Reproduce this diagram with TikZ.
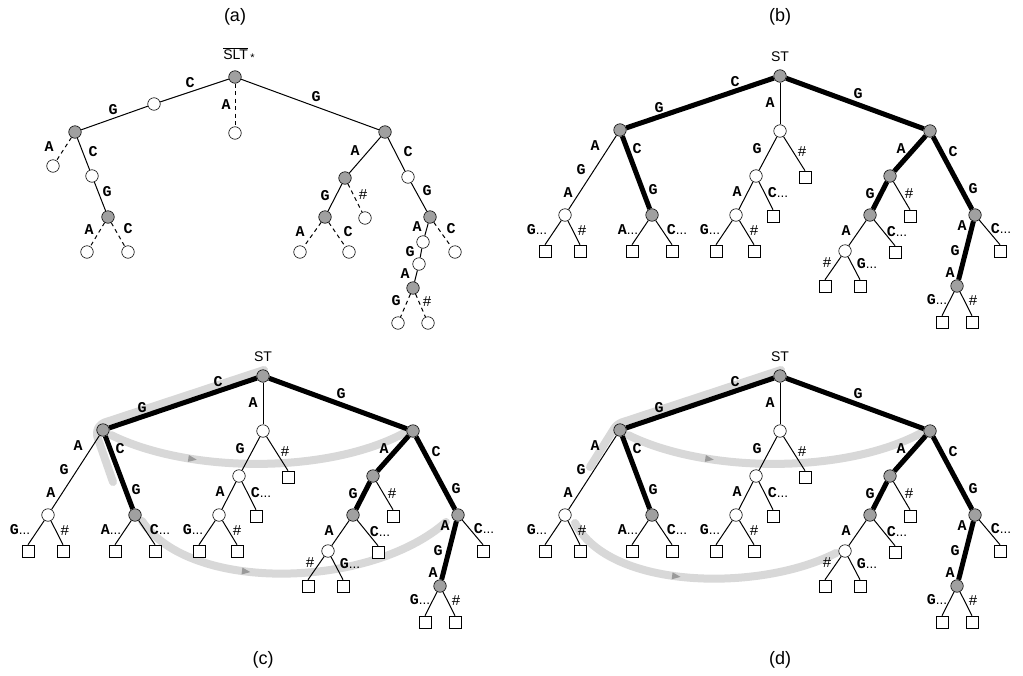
\documentclass[tikz,border=0pt]{standalone}
\usepackage{fontspec}
\setmainfont{Liberation Sans}
\newfontfamily\lmono{Liberation Mono}
\usetikzlibrary{calc,decorations.markings}
\definecolor{nodegray}{HTML}{A0A0A0}
\definecolor{bandgray}{HTML}{D8D8D8}
\definecolor{arrgray}{HTML}{9A9A9A}
\pgfdeclarelayer{back}
\pgfsetlayers{back,main}
\newcommand\mydots{{\normalfont\fontsize{13.5}{14}\selectfont...}}
\tikzset{
 gn/.style={circle,draw,fill=nodegray,minimum size=12.5pt,inner sep=0pt,line width=0.6pt},
 wn/.style={circle,draw,fill=white,minimum size=12.5pt,inner sep=0pt,line width=0.6pt},
 sqn/.style={rectangle,draw,fill=white,minimum size=12pt,inner sep=0pt,line width=0.6pt},
 thn/.style={line width=1pt},
 thk/.style={line width=5pt},
 dsh/.style={line width=1pt,dash pattern=on 4pt off 3.5pt},
 lb/.style={font=\fontsize{15}{16}\lmono\bfseries,inner sep=0pt},
 hs/.style={font=\fontsize{15}{16}\lmono,inner sep=0pt},
 ttl/.style={font=\fontsize{18}{19}\selectfont,inner sep=0pt},
 rt/.style={font=\fontsize{14}{15}\selectfont,inner sep=0pt},
 band/.style={line width=8pt,draw=bandgray,line cap=round,line join=round},
 arrmark/.style={postaction={decorate,decoration={markings,mark=at position #1 with {\fill[arrgray] (4.5pt,0pt) -- (-4pt,3.5pt) -- (-4pt,-3.5pt) -- cycle;}}}},
}
\newcommand\sttree[1]{%
 \node[rt] (#1t) at (780,57) {ST};
 \node[gn] (#1r) at (780,76) {};
 \node[gn] (#1l) at (620,130) {};
 \node[wn] (#1m) at (780,131) {};
 \node[gn] (#1q) at (930,131) {};
 \node[wn] (#1lw) at (565,215) {};
 \node[gn] (#1lg) at (652,215) {};
 \node[sqn] (#1s1) at (545,251) {};
 \node[sqn] (#1s2) at (580,251) {};
 \node[sqn] (#1s3) at (632,251) {};
 \node[sqn] (#1s4) at (672,251) {};
 \node[wn] (#1mw) at (756,176) {};
 \node[sqn] (#1ms) at (805,177) {};
 \node[wn] (#1mv) at (736,215) {};
 \node[sqn] (#1mt) at (773,216) {};
 \node[sqn] (#1s5) at (716,251) {};
 \node[sqn] (#1s6) at (754,251) {};
 \node[gn] (#1g1) at (890,176) {};
 \node[sqn] (#1u1) at (910,216) {};
 \node[gn] (#1g2) at (870,215) {};
 \node[wn] (#1rw) at (845,251) {};
 \node[sqn] (#1u2) at (895,252) {};
 \node[sqn] (#1s7) at (825,286) {};
 \node[sqn] (#1s8) at (860,286) {};
 \node[gn] (#1g3) at (975,215) {};
 \node[sqn] (#1u3) at (1000,251) {};
 \node[gn] (#1g4) at (957,286) {};
 \node[sqn] (#1s9) at (942,322) {};
 \node[sqn] (#1s10) at (972,322) {};
 \draw[thk] (#1r) -- (#1l);
 \draw[thk] (#1r) -- (#1q);
 \draw[thn] (#1r) -- (#1m);
 \draw[thn] (#1l) -- (#1lw);
 \draw[thk] (#1l) -- (#1lg);
 \draw[thn] (#1lw) -- (#1s1.north);
 \draw[thn] (#1lw) -- (#1s2.north);
 \draw[thn] (#1lg) -- (#1s3.north);
 \draw[thn] (#1lg) -- (#1s4.north);
 \draw[thn] (#1m) -- (#1mw);
 \draw[thn] (#1m) -- (#1ms.north);
 \draw[thn] (#1mw) -- (#1mv);
 \draw[thn] (#1mw) -- (#1mt.north);
 \draw[thn] (#1mv) -- (#1s5.north);
 \draw[thn] (#1mv) -- (#1s6.north);
 \draw[thk] (#1q) -- (#1g1);
 \draw[thk] (#1g1) -- (#1g2);
 \draw[thn] (#1g1) -- (#1u1.north);
 \draw[thn] (#1g2) -- (#1rw);
 \draw[thn] (#1g2) -- (#1u2.north);
 \draw[thn] (#1rw) -- (#1s7.north);
 \draw[thn] (#1rw) -- (#1s8.north);
 \draw[thk] (#1q) -- (#1g3);
 \draw[thk] (#1g3) -- (#1g4);
 \draw[thn] (#1g3) -- (#1u3.north);
 \draw[thn] (#1g4) -- (#1s9.north);
 \draw[thn] (#1g4) -- (#1s10.north);
 \node[lb] at (735,82) {C};
 \node[lb] at (659,108) {G};
 \node[lb] at (770,103) {A};
 \node[lb] at (858,94) {G};
 \node[lb] at (595,146) {A};
 \node[lb] at (581,170) {G};
 \node[lb] at (568,193) {A};
 \node[lb] at (637,149) {C};
 \node[lb] at (653,190) {G};
 \node[lb] at (537,230) {G\mydots};
 \node[hs] at (582,231) {\#};
 \node[lb] at (628,230) {A\mydots};
 \node[lb] at (677,230) {C\mydots};
 \node[lb] at (757,149) {G};
 \node[hs] at (802,152) {\#};
 \node[lb] at (737,192) {A};
 \node[lb] at (778,193) {C\mydots};
 \node[lb] at (710,230) {G\mydots};
 \node[hs] at (754,231) {\#};
 \node[lb] at (901,149) {A};
 \node[lb] at (953,152) {C};
 \node[lb] at (870,194) {G};
 \node[hs] at (909,194) {\#};
 \node[lb] at (846,231) {A};
 \node[lb] at (897,232) {C\mydots};
 \node[hs] at (827,263) {\#};
 \node[lb] at (867,264) {G\mydots};
 \node[lb] at (973,189) {G};
 \node[lb] at (962,226) {A};
 \node[lb] at (955,251) {G};
 \node[lb] at (950,273) {A};
 \node[lb] at (1001,229) {C\mydots};
 \node[lb] at (937,300) {G\mydots};
 \node[hs] at (973,301) {\#};
}
\begin{document}
\begin{tikzpicture}[x=1pt,y=-1pt]
\useasboundingbox (0,0) rectangle (1023,675);
% titles
\node[ttl] (ta) at (235,17) {(a)};
\node[ttl] (tb) at (780,17) {(b)};
\node[ttl] (tc) at (263,660) {(c)};
\node[ttl] (td) at (780,660) {(d)};
% ---------- (a)
\node[rt] (aT) at (239,54.5) {$\overline{\hbox{SLT}}$\,\raisebox{-1.5pt}{\fontsize{11}{12}\selectfont *}};
\node[gn] (a0) at (235,77) {};
\node[wn] (a1) at (154,104) {};
\node[gn] (a2) at (75,132) {};
\node[wn] (a3) at (235,133) {};
\node[wn] (a4) at (53,166) {};
\node[wn] (a5) at (92,176) {};
\node[gn] (a6) at (108,217) {};
\node[wn] (a7) at (87,252) {};
\node[wn] (a8) at (128,252) {};
\node[gn] (a9) at (385,132) {};
\node[gn] (a10) at (345,178) {};
\node[gn] (a11) at (325,217) {};
\node[wn] (a12) at (365,218) {};
\node[wn] (a13) at (300,252) {};
\node[wn] (a14) at (349,252) {};
\node[wn] (a15) at (408,177) {};
\node[gn] (a16) at (430,217) {};
\node[wn] (a17) at (423,242) {};
\node[wn] (a18) at (455,252) {};
\node[wn] (a19) at (419,264) {};
\node[gn] (a20) at (413,288) {};
\node[wn] (a21) at (398,323) {};
\node[wn] (a22) at (428,323) {};
\draw[thn] (a0) -- (a1);
\draw[thn] (a1) -- (a2);
\draw[dsh] (a0) -- (a3);
\draw[dsh] (a2) -- (a4);
\draw[thn] (a2) -- (a5);
\draw[thn] (a5) -- (a6);
\draw[dsh] (a6) -- (a7);
\draw[dsh] (a6) -- (a8);
\draw[thn] (a0) -- (a9);
\draw[thn] (a9) -- (a10);
\draw[thn] (a10) -- (a11);
\draw[dsh] (a10) -- (a12);
\draw[dsh] (a11) -- (a13);
\draw[dsh] (a11) -- (a14);
\draw[thn] (a9) -- (a15);
\draw[thn] (a15) -- (a16);
\draw[thn] (a16) -- (a17);
\draw[dsh] (a16) -- (a18);
\draw[thn] (a17) -- (a19);
\draw[thn] (a19) -- (a20);
\draw[dsh] (a20) -- (a21);
\draw[dsh] (a20) -- (a22);
\node[lb] at (190,83) {C};
\node[lb] at (113,110) {G};
\node[lb] at (226,105) {A};
\node[lb] at (49,147) {A};
\node[lb] at (93,152) {C};
\node[lb] at (107,192) {G};
\node[lb] at (89,230) {A};
\node[lb] at (128,229) {C};
\node[lb] at (316,97) {G};
\node[lb] at (355,151) {A};
\node[lb] at (408,152) {C};
\node[lb] at (325,196) {G};
\node[hs] at (363,195) {\#};
\node[lb] at (300,232) {A};
\node[lb] at (348,232) {C};
\node[lb] at (427,191) {G};
\node[lb] at (417,227) {A};
\node[lb] at (451,229) {C};
\node[lb] at (410,252) {G};
\node[lb] at (405,274) {A};
\node[lb] at (396,301) {G};
\node[hs] at (427,302) {\#};
% ---------- (b)
\sttree{b}
% ---------- (c)
\begin{scope}[shift={(-517,300)}]
\sttree{c}
\end{scope}
% ---------- (d)
\begin{scope}[shift={(0,300)}]
\sttree{d}
\end{scope}
% ---------- bands
\begin{pgfonlayer}{back}
\fill[white] (0,0) rectangle (1023,675);
\draw[band,rounded corners=5pt] ($(cr)+(1,-6)$) -- ($(cl)+(-3,-6)$) -- ($(cl)+(-7,3)$) -- ($(cl)+(10,52)$);
\draw[band,arrmark=0.28] ($(cl)+(8,5)$) .. controls ($(cl)+(87,44)$) and ($(cq)+(-83,43)$) .. ($(cq)+(-7,1)$);
\draw[band,arrmark=0.36] ($(clg)+(7,6)$) .. controls ($(clg)+(55,78)$) and ($(cg3)+(-88,74)$) .. ($(cg3)+(-12,7)$);
\draw[band,rounded corners=5pt] ($(dr)+(1,-6)$) -- ($(dl)+(-3,-6)$) -- ($(dl)+(-30,37)$);
\draw[band,arrmark=0.28] ($(dl)+(8,5)$) .. controls ($(dl)+(87,44)$) and ($(dq)+(-83,43)$) .. ($(dq)+(-7,1)$);
\draw[band,arrmark=0.42] ($(dlw)+(10,8)$) .. controls ($(dlw)+(45,75)$) and ($(drw)+(-85,41)$) .. ($(drw)+(-9,2)$);
\end{pgfonlayer}
\end{tikzpicture}
\end{document}
